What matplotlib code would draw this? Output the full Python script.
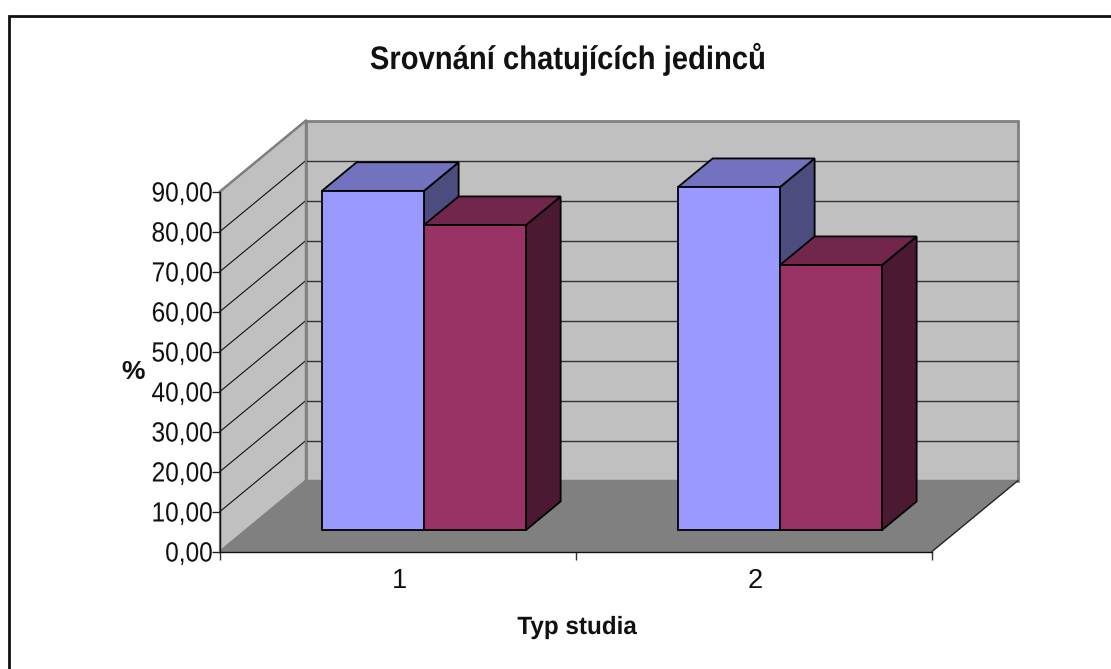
import matplotlib
matplotlib.use("Agg")
import matplotlib.pyplot as plt
from matplotlib.patches import Polygon
from matplotlib.patheffects import AbstractPathEffect
from matplotlib.transforms import Affine2D

plt.rcParams['font.family'] = ['Liberation Sans', 'DejaVu Sans']

categories = ["1", "2"]
series_a = [84.8, 85.75]
series_b = [76.25, 66.25]
y_ticks = [0, 10, 20, 30, 40, 50, 60, 70, 80, 90]
y_tick_labels = ["0,00", "10,00", "20,00", "30,00", "40,00", "50,00", "60,00", "70,00", "80,00", "90,00"]
title = "Srovnání chatujících jedinců"
x_title = "Typ studia"
y_title = "%"


class HScale(AbstractPathEffect):
    """Condense a text line horizontally about its centre or right end."""
    def __init__(self, sx, anchor='center'):
        super().__init__()
        self.sx, self.anchor = sx, anchor

    def draw_path(self, renderer, gc, tpath, affine, rgbFace=None):
        ext = affine.transform_path(tpath).get_extents()
        ax_ = ext.x1 if self.anchor == 'right' else 0.5 * (ext.x0 + ext.x1)
        t = affine + Affine2D().translate(-ax_, 0).scale(self.sx, 1).translate(ax_, 0)
        renderer.draw_path(gc, tpath, t, rgbFace)


W, H = 1111, 669
fig = plt.figure(figsize=(W / 100, H / 100), dpi=100, facecolor='white')

# frame
bg = fig.add_axes([0, 0, 1, 1], zorder=0)
bg.set_xlim(0, W); bg.set_ylim(H, 0); bg.axis('off')
bg.plot([9, 9, W], [H, 15.5, 15.5], color='#111111', lw=2.0, solid_capstyle='butt', solid_joinstyle='miter')

# Front plane of the 3D box is the axes area
L, R, B, T = 220, 932, 551.5, 191.5
ax = fig.add_axes([L / W, 1 - B / H, (R - L) / W, (B - T) / H], zorder=1)
ax.set_xlim(0, 2); ax.set_ylim(0, 90)
ax.patch.set_visible(False)
for s in ('top', 'right'):
    ax.spines[s].set_visible(False)
for s in ('left', 'bottom'):
    ax.spines[s].set_linewidth(1.0); ax.spines[s].set_color('#111111')

DX = 86 / 356      # oblique shift per unit depth, x data units
DY = 71 / 4.0      # oblique shift per unit depth, y data units

def P(x, y, d=0.0):
    return (x + d * DX, y + d * DY)

def poly(pts, fc, ec, lw, z):
    ax.add_patch(Polygon(pts, closed=True, fc=fc, ec=ec, lw=lw, joinstyle='miter',
                         zorder=z, clip_on=False))

wall, floor_c, edge = '#C0C0C0', '#808080', '#808080'
poly([P(0, 0, 1), P(2, 0, 1), P(2, 90, 1), P(0, 90, 1)], wall, edge, 2.0, 1)
poly([P(0, 0), P(0, 0, 1), P(0, 90, 1), P(0, 90)], wall, edge, 1.6, 1.1)
poly([P(0, 0), P(0, 0, 1), P(2, 0, 1), P(2, 0)], floor_c, floor_c, 1.0, 1.2)
ax.plot(*zip(P(2, 0), P(2, 0, 1)), color='#222222', lw=0.9, zorder=1.25, clip_on=False)

for v in y_ticks[1:-1]:
    a, b, c = P(0, v), P(0, v, 1), P(2, v, 1)
    ax.plot([a[0], b[0]], [a[1], b[1]], color='#111111', lw=0.8, zorder=1.3, clip_on=False)
    ax.plot([b[0], c[0]], [b[1], c[1]], color='#333333', lw=1.0, zorder=1.3, clip_on=False)
ax.plot(*zip(P(0, 0, 1), P(0, 90, 1)), color=edge, lw=1.6, zorder=1.4, clip_on=False)
ax.plot(*zip(P(0, 90, 0), P(0, 90, 1)), color=edge, lw=1.6, zorder=1.4, clip_on=False)

d0, d1 = 0.30, 0.705
bw = 0.2865

def bar3d(x0, val, face, top, side, z):
    x1 = x0 + bw
    poly([P(x1, 0, d0), P(x1, 0, d1), P(x1, val, d1), P(x1, val, d0)], side, 'black', 1.3, z)
    poly([P(x0, val, d0), P(x1, val, d0), P(x1, val, d1), P(x0, val, d1)], top, 'black', 1.3, z)
    poly([P(x0, 0, d0), P(x1, 0, d0), P(x1, val, d0), P(x0, val, d0)], face, 'black', 1.3, z + 0.1)

for i in range(len(categories)):
    c = i + 0.5
    bar3d(c - bw, series_a[i], '#9999FF', '#7272BF', '#4C4C7F', 3 + i)
    bar3d(c, series_b[i], '#993366', '#72264C', '#4C1933', 3.5 + i)

ax.set_yticks(y_ticks); ax.set_yticklabels(y_tick_labels)
ax.set_xticks([0, 1, 2]); ax.set_xticklabels([])
ax.tick_params(axis='y', length=5.5, width=1, color='#222222', labelsize=20, pad=-0.5)
ax.tick_params(axis='x', length=5.5, width=1, color='#333333')
for t in ax.get_yticklabels():
    t.set_color('#111111')
    t.set_path_effects([HScale(0.88, 'right')])
for i, name in enumerate(categories):
    ax.annotate(name, xy=(i + 0.5, 0), xycoords='data', xytext=(1, -21.5), textcoords='offset points',
                ha='center', va='center', fontsize=19.5, color='#111111')

tt = fig.text(568 / W, 1 - 59 / H, title, ha='center', va='center', fontsize=23.5, fontweight='bold', color='#111111')
tt.set_path_effects([HScale(0.895)])
xt = fig.text(577 / W, 1 - 627 / H, x_title, ha='center', va='center', fontsize=18, fontweight='bold', color='#111111')
xt.set_path_effects([HScale(0.97)])
fig.text(133 / W, 1 - 372 / H, y_title, ha='center', va='center', fontsize=19, fontweight='bold', color='#111111')

fig.savefig('out.png', dpi=100)
